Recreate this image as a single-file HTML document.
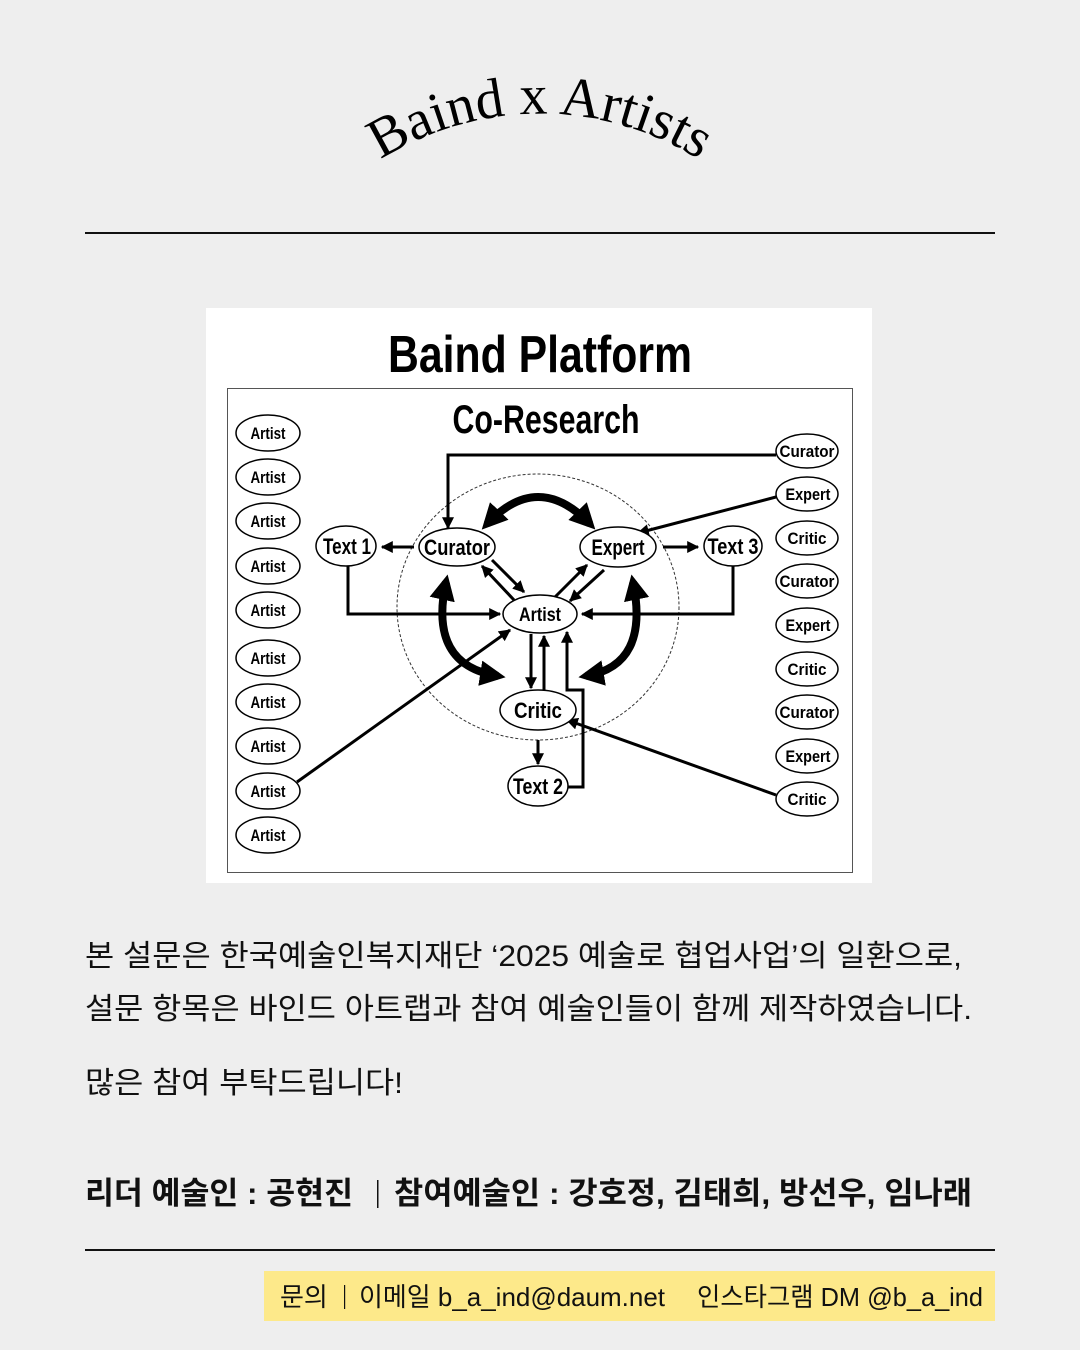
<!DOCTYPE html>
<html><head><meta charset="utf-8"><style>
html,body{margin:0;padding:0;background:#eeeeee;}
svg{display:block}
.k{font-family:"Liberation Sans","Noto Sans CJK KR",sans-serif;fill:#111;}
.d{font-family:"Liberation Sans Narrow","Liberation Sans",sans-serif;font-weight:bold;fill:#000;}
</style></head><body>
<svg width="1080" height="1350" viewBox="0 0 1080 1350" xmlns="http://www.w3.org/2000/svg">
<defs>
<path id="arc" d="M 352 180 A 300 300 0 0 1 728 180"/>
<marker id="ah" viewBox="0 0 10 10" refX="9" refY="5" markerWidth="4" markerHeight="4" orient="auto-start-reverse"><path d="M0,0 L10,5 L0,10 z" fill="#000"/></marker>
<marker id="ab" viewBox="0 0 10 10" refX="7" refY="5" markerWidth="3.2" markerHeight="3.2" orient="auto-start-reverse"><path d="M0,0 L10,5 L0,10 z" fill="#000"/></marker>
</defs>
<rect width="1080" height="1350" fill="#eeeeee"/>
<text font-family="Liberation Serif,serif" font-size="56" fill="#000" text-anchor="middle"><textPath href="#arc" startOffset="50%">Baind x Artists</textPath></text>
<rect x="85" y="232" width="910" height="2" fill="#111"/>
<rect x="206" y="308" width="666" height="575" fill="#fff"/>
<text class="d" x="540" y="372" font-size="52" text-anchor="middle" textLength="304" lengthAdjust="spacingAndGlyphs">Baind Platform</text>
<rect x="227.5" y="388.5" width="625" height="484" fill="none" stroke="#555" stroke-width="1"/>
<text class="d" x="546" y="433" font-size="40" text-anchor="middle" textLength="187" lengthAdjust="spacingAndGlyphs">Co-Research</text>
<ellipse cx="538" cy="607" rx="141" ry="133" fill="none" stroke="#333" stroke-width="1" stroke-dasharray="3,2"/>
<g fill="#fff" stroke="#000" stroke-width="1.5">
<ellipse cx="268" cy="433" rx="32" ry="18"/><ellipse cx="268" cy="477" rx="32" ry="18"/><ellipse cx="268" cy="521" rx="32" ry="18"/><ellipse cx="268" cy="566" rx="32" ry="18"/><ellipse cx="268" cy="610" rx="32" ry="18"/><ellipse cx="268" cy="658" rx="32" ry="18"/><ellipse cx="268" cy="702" rx="32" ry="18"/><ellipse cx="268" cy="746" rx="32" ry="18"/><ellipse cx="268" cy="791" rx="32" ry="18"/><ellipse cx="268" cy="835" rx="32" ry="18"/>
<ellipse cx="807" cy="451" rx="31" ry="17"/><ellipse cx="807" cy="494" rx="31" ry="17"/><ellipse cx="807" cy="538" rx="31" ry="17"/><ellipse cx="807" cy="581" rx="31" ry="17"/><ellipse cx="807" cy="625" rx="31" ry="17"/><ellipse cx="807" cy="669" rx="31" ry="17"/><ellipse cx="807" cy="712" rx="31" ry="17"/><ellipse cx="807" cy="756" rx="31" ry="17"/><ellipse cx="807" cy="799" rx="31" ry="17"/>
</g>
<g fill="none" stroke="#000" stroke-width="3">
<path d="M776 455 H448 V528" marker-end="url(#ah)"/>
<path d="M776 497 L638 533" marker-end="url(#ah)"/>
<path d="M348 566 V614 H500" marker-end="url(#ah)"/>
<path d="M733 566 V614 H582" marker-end="url(#ah)"/>
<path d="M297 782 L510 630" marker-end="url(#ah)"/>
<path d="M776 795 L567 720" marker-end="url(#ah)"/>
<path d="M568 787 H583 V690 H567 V632" marker-end="url(#ah)"/>
<path d="M531 634 V688" marker-end="url(#ah)"/>
<path d="M544 690 V636" marker-end="url(#ah)"/>
<path d="M538 740 V764" marker-end="url(#ah)"/>
<path d="M414 547 H382" marker-end="url(#ah)"/>
<path d="M663 547 H698" marker-end="url(#ah)"/>
<path d="M492 560 L524 592" marker-end="url(#ah)"/>
<path d="M514 600 L482 566" marker-end="url(#ah)"/>
<path d="M555 597 L587 565" marker-end="url(#ah)"/>
<path d="M604 570 L570 601" marker-end="url(#ah)"/>
</g>
<g fill="none" stroke="#000" stroke-width="8">
<path d="M487 524 Q538 470 590 524" marker-start="url(#ab)" marker-end="url(#ab)"/>
<path d="M446 582 Q428 665 498 676" marker-start="url(#ab)" marker-end="url(#ab)"/>
<path d="M633 582 Q650 665 586 676" marker-start="url(#ab)" marker-end="url(#ab)"/>
</g>
<g fill="#fff" stroke="#000" stroke-width="1.5">
<ellipse cx="346" cy="546" rx="30" ry="20"/><ellipse cx="457" cy="547" rx="38" ry="19"/><ellipse cx="618" cy="547" rx="38" ry="20"/><ellipse cx="733" cy="546" rx="29" ry="20"/><ellipse cx="540" cy="614" rx="37" ry="19"/><ellipse cx="538" cy="710" rx="38" ry="20"/><ellipse cx="538" cy="786" rx="30" ry="20"/>
</g>
<g class="d" text-anchor="middle" font-size="17">
<text x="268" y="439" textLength="35" lengthAdjust="spacingAndGlyphs">Artist</text><text x="268" y="483" textLength="35" lengthAdjust="spacingAndGlyphs">Artist</text><text x="268" y="527" textLength="35" lengthAdjust="spacingAndGlyphs">Artist</text><text x="268" y="572" textLength="35" lengthAdjust="spacingAndGlyphs">Artist</text><text x="268" y="616" textLength="35" lengthAdjust="spacingAndGlyphs">Artist</text><text x="268" y="664" textLength="35" lengthAdjust="spacingAndGlyphs">Artist</text><text x="268" y="708" textLength="35" lengthAdjust="spacingAndGlyphs">Artist</text><text x="268" y="752" textLength="35" lengthAdjust="spacingAndGlyphs">Artist</text><text x="268" y="797" textLength="35" lengthAdjust="spacingAndGlyphs">Artist</text><text x="268" y="841" textLength="35" lengthAdjust="spacingAndGlyphs">Artist</text>
<text x="807" y="457" textLength="55" lengthAdjust="spacingAndGlyphs">Curator</text><text x="808" y="500" textLength="45" lengthAdjust="spacingAndGlyphs">Expert</text><text x="807" y="544" textLength="39" lengthAdjust="spacingAndGlyphs">Critic</text><text x="807" y="587" textLength="55" lengthAdjust="spacingAndGlyphs">Curator</text><text x="808" y="631" textLength="45" lengthAdjust="spacingAndGlyphs">Expert</text><text x="807" y="675" textLength="39" lengthAdjust="spacingAndGlyphs">Critic</text><text x="807" y="718" textLength="55" lengthAdjust="spacingAndGlyphs">Curator</text><text x="808" y="762" textLength="45" lengthAdjust="spacingAndGlyphs">Expert</text><text x="807" y="805" textLength="39" lengthAdjust="spacingAndGlyphs">Critic</text>
</g>
<g class="d" text-anchor="middle" font-size="22">
<text x="347" y="554" textLength="48" lengthAdjust="spacingAndGlyphs">Text 1</text><text x="457" y="555" textLength="66" lengthAdjust="spacingAndGlyphs">Curator</text><text x="618" y="555" textLength="53" lengthAdjust="spacingAndGlyphs">Expert</text><text x="733" y="554" textLength="51" lengthAdjust="spacingAndGlyphs">Text 3</text><text x="538" y="718" textLength="48" lengthAdjust="spacingAndGlyphs">Critic</text><text x="538" y="794" textLength="50" lengthAdjust="spacingAndGlyphs">Text 2</text>
<text x="540" y="621" font-size="19" textLength="42" lengthAdjust="spacingAndGlyphs">Artist</text>
</g>
<g class="k" font-size="30">
<text x="85" y="966" textLength="877" lengthAdjust="spacingAndGlyphs">본 설문은 한국예술인복지재단 ‘2025 예술로 협업사업’의 일환으로,</text>
<text x="85" y="1019" textLength="887" lengthAdjust="spacingAndGlyphs">설문 항목은 바인드 아트랩과 참여 예술인들이 함께 제작하였습니다.</text>
<text x="85" y="1093" textLength="318" lengthAdjust="spacingAndGlyphs">많은 참여 부탁드립니다!</text>
<text x="85" y="1204" font-weight="bold" font-size="31" textLength="268" lengthAdjust="spacingAndGlyphs">리더 예술인 : 공현진</text>
<rect x="377" y="1180" width="1.5" height="28" fill="#111"/>
<text x="394" y="1204" font-weight="bold" font-size="31" textLength="578" lengthAdjust="spacingAndGlyphs">참여예술인 : 강호정, 김태희, 방선우, 임나래</text>
</g>
<rect x="85" y="1249" width="910" height="2" fill="#111"/>
<rect x="264" y="1271" width="731" height="50" fill="#fde98a"/>
<g class="k" font-size="26">
<text x="280" y="1306">문의</text>
<rect x="344" y="1285" width="1.2" height="24" fill="#111"/>
<text x="359" y="1306" textLength="306" lengthAdjust="spacingAndGlyphs">이메일 b_a_ind@daum.net</text>
<text x="697" y="1306" textLength="286" lengthAdjust="spacingAndGlyphs">인스타그램 DM @b_a_ind</text>
</g>
</svg>
</body></html>
